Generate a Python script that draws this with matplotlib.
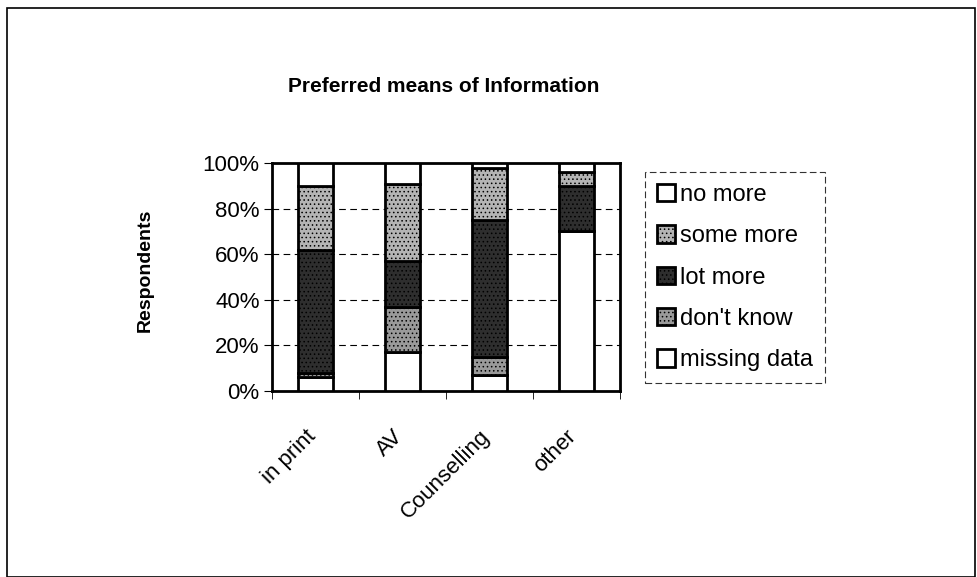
import numpy as np
import matplotlib
matplotlib.use("Agg")
import matplotlib.pyplot as plt
from matplotlib.patches import Rectangle
from matplotlib.ticker import FuncFormatter

plt.rcParams['font.family'] = ['Liberation Sans', 'DejaVu Sans']
plt.rcParams['hatch.linewidth'] = 0.6

categories = ["in print", "AV", "Counselling", "other"]
# percentages, bottom to top
missing_data = [6, 17, 7, 70]
dont_know = [2, 20, 8, 0]
lot_more = [54, 20, 60, 20]
some_more = [28, 34, 23, 6]
no_more = [10, 9, 2, 4]

series = [
    ("missing data", missing_data, "white", None),
    ("don't know", dont_know, "#9a9a9a", "...."),
    ("lot more", lot_more, "#2e2e2e", "...."),
    ("some more", some_more, "#b4b4b4", "...."),
    ("no more", no_more, "white", None),
]

fig = plt.figure(figsize=(9.77, 5.77), dpi=100)
ax = fig.add_axes([272/977, 1 - 391/577, (620-272)/977, (391-163)/577])

x = np.arange(len(categories))
bottom = np.zeros(len(categories))
handles = {}
for name, vals, col, hatch in series:
    vals = np.array(vals, dtype=float)
    b = ax.bar(x, vals, 0.4, bottom=bottom, color=col, edgecolor="black",
               linewidth=2, hatch=hatch, label=name, zorder=3)
    handles[name] = b
    bottom += vals

ax.set_xlim(-0.5, 3.5)
ax.set_ylim(0, 100)
ax.set_yticks([0, 20, 40, 60, 80, 100])
ax.yaxis.set_major_formatter(FuncFormatter(lambda v, p: "%d%%" % v))
# labels sit a little left of the bar centres, like the original
ax.set_xticks(x - 0.12)
ax.set_xticklabels(categories, rotation=45, ha="right", rotation_mode="anchor", fontsize=16)
ax.set_xticks(np.arange(-0.5, 4.0, 1.0), minor=True)
ax.tick_params(axis="x", which="major", length=0, pad=25)
ax.tick_params(axis="x", which="minor", length=6, direction="out")
ax.tick_params(axis="y", length=6, labelsize=16, pad=3)
ax.yaxis.grid(True, linestyle=(0, (6, 4)), color="black", linewidth=0.8, zorder=0)
for s in ax.spines.values():
    s.set_linewidth(2)

fig.text(145/977, 1 - 270/577, "Respondents", fontsize=14, fontweight="bold",
         rotation=90, ha="center", va="center")
fig.text(444/977, 1 - 86/577, "Preferred means of Information", fontsize=15,
         fontweight="bold", ha="center", va="center")

order = ["no more", "some more", "lot more", "don't know", "missing data"]
leg = fig.legend([handles[n] for n in order], order, loc="upper left",
                 bbox_to_anchor=(645/977, 1 - 172/577), fontsize=17,
                 frameon=True, fancybox=False, edgecolor="black",
                 handlelength=0.75, handleheight=0.75, handletextpad=0.25,
                 labelspacing=0.82, borderpad=0.5, borderaxespad=0)
leg.get_frame().set_linewidth(0.8)
leg.get_frame().set_linestyle((0, (6, 3)))

fig.patches.append(Rectangle((7/977, 0), 968/977, 1 - 8/577, transform=fig.transFigure,
                             fill=False, edgecolor="black", linewidth=1.2))

fig.savefig("out.png", dpi=100)
